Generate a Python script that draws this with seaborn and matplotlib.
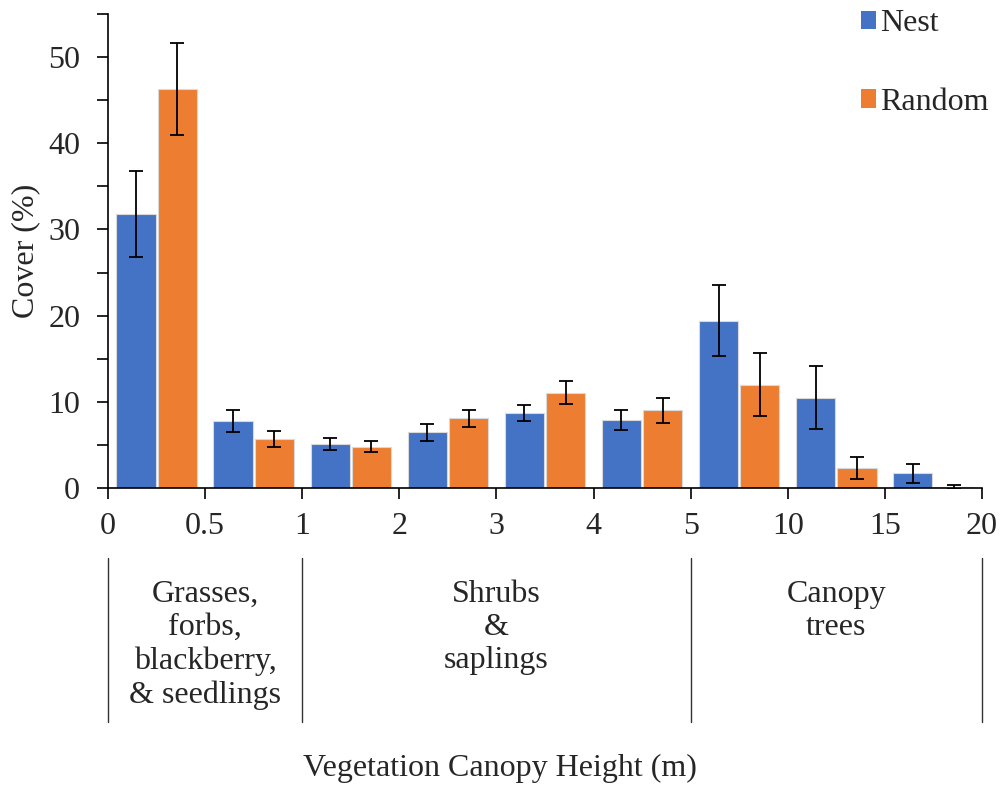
import numpy as np
import pandas as pd
import matplotlib
matplotlib.use("Agg")
import matplotlib.pyplot as plt
import matplotlib.transforms as mtransforms
from matplotlib.patches import Patch
from matplotlib.ticker import MultipleLocator
import seaborn as sns

# ---------------- data ----------------
intervals = ["0-0.5", "0.5-1", "1-2", "2-3", "3-4", "4-5", "5-10", "10-15", "15-20"]
nest = [31.8, 7.8, 5.15, 6.45, 8.7, 7.9, 19.4, 10.5, 1.7]
nest_err = [5.0, 1.25, 0.7, 0.97, 0.91, 1.2, 4.1, 3.6, 1.12]
random_vals = [46.3, 5.7, 4.8, 8.1, 11.05, 9.0, 12.0, 2.3, 0.1]
random_err = [5.35, 0.95, 0.6, 0.97, 1.34, 1.5, 3.7, 1.3, 0.25]
boundary_labels = ["0", "0.5", "1", "2", "3", "4", "5", "10", "15", "20"]
group_names = ["Grasses,\nforbs,\nblackberry,\n& seedlings", "Shrubs\n&\nsaplings", "Canopy\ntrees"]
group_spans = [(0, 2), (2, 6), (6, 9)]  # interval index ranges
series = ["Nest", "Random"]
colors = {"Nest": "#4472C4", "Random": "#ED7D31"}

df = pd.DataFrame({
    "interval": intervals * 2,
    "site": ["Nest"] * len(intervals) + ["Random"] * len(intervals),
    "cover": nest + random_vals,
    "err": nest_err + random_err,
})

FS = 23

# ---------------- style ----------------
sns.set_style("ticks")
plt.rcParams["font.family"] = ["Liberation Serif", "DejaVu Serif"]
plt.rcParams["font.size"] = FS

fig = plt.figure(figsize=(10.05, 7.85), dpi=100)
ax = fig.add_axes([108 / 1005, 1 - 488 / 785, (982 - 108) / 1005, (488 - 14) / 785])

sns.barplot(data=df, x="interval", y="cover", hue="site", hue_order=series,
            order=intervals, palette=colors, errorbar=None, width=0.85, gap=0.05,
            edgecolor="#d9d9d9", linewidth=0.8, saturation=1, ax=ax, legend=False)

# error bars from the bars themselves
err_map = {"Nest": nest_err, "Random": random_err}
for name, cont in zip(series, ax.containers):
    xs = [b.get_x() + b.get_width() / 2 for b in cont]
    ys = [b.get_height() for b in cont]
    ax.errorbar(xs, ys, yerr=err_map[name], fmt="none", ecolor="black",
                elinewidth=1.3, capsize=5, capthick=1.3, zorder=5)

# axes formatting
n = len(intervals)
ax.set_xlim(-0.5, n - 0.5)
ax.set_ylim(0, 55)
ax.set_xticks(np.arange(n + 1) - 0.5)
ax.set_xticklabels(boundary_labels)
ax.yaxis.set_major_locator(MultipleLocator(10))
ax.yaxis.set_minor_locator(MultipleLocator(5))
ax.tick_params(axis="both", which="both", direction="out", length=8, width=1.2,
               color="black", labelsize=FS)
ax.tick_params(axis="y", which="both", pad=12)
ax.tick_params(axis="x", pad=9)
for s in ["top", "right"]:
    ax.spines[s].set_visible(False)
for s in ["left", "bottom"]:
    ax.spines[s].set_linewidth(1.2)
    ax.spines[s].set_color("black")

ax.set_xlabel("")
ax.set_ylabel("Cover (%)", fontsize=FS, labelpad=6)

# category separators and labels below axis
trans = mtransforms.blended_transform_factory(ax.transData, ax.transAxes)
edges = sorted(set([a for a, b in group_spans] + [b for a, b in group_spans]))
for e in edges:
    ax.plot([e - 0.5, e - 0.5], [-0.148, -0.494], transform=trans, color="#333333",
            lw=1.0, clip_on=False)
for name, (a, b) in zip(group_names, group_spans):
    ax.text((a + b) / 2 - 0.5, -0.194, name, transform=trans, ha="center", va="top",
            fontsize=FS, linespacing=1.19)

fig.text(500 / 1005, 1 - 768 / 785, "Vegetation Canopy Height (m)", ha="center",
         va="center", fontsize=FS)

# legend
handles = [Patch(facecolor=colors[s], edgecolor="none") for s in series]
ax.legend(handles, series, loc="upper left", bbox_to_anchor=(0.861, 1.01),
          frameon=False, handlelength=0.5, handleheight=0.5, handletextpad=0.12,
          labelspacing=1.55, borderaxespad=0, borderpad=0, fontsize=FS)

fig.savefig("out.png", dpi=100)
